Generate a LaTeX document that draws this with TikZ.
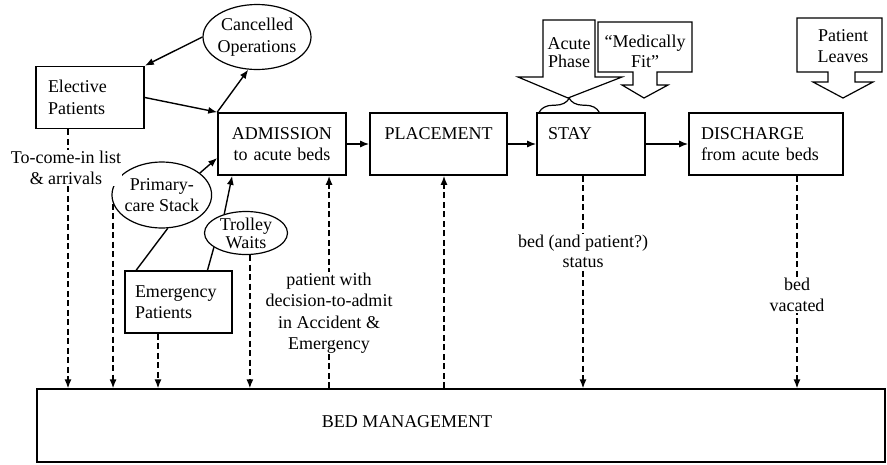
\documentclass[tikz,border=0pt]{standalone}
\usepackage{fontspec}
\setmainfont{Liberation Serif}
\usetikzlibrary{arrows.meta,shapes.geometric,decorations.pathreplacing}

\begin{document}
\begin{tikzpicture}[x=1pt, y=-1pt,
    every node/.style={font=\fontsize{18}{21.5}\selectfont},
    box/.style={draw, line width=1.6pt, minimum height=62pt, inner ysep=0pt},
    ell/.style={draw, ellipse, line width=1.2pt, inner xsep=-2pt, inner ysep=0pt, align=center},
    lbl/.style={fill=white, inner sep=1pt, align=center},
    bigarrow/.style={draw, line width=1.2pt, line join=miter},
    arr/.style={-{Latex[length=9pt,width=7pt]}, line width=1.4pt},
    link/.style={line width=1.4pt},
    dasharr/.style={arr, line width=1.5pt, dash pattern=on 6pt off 3.5pt}
]
\useasboundingbox (0,0) rectangle (887,464);

\node[box, text width=84pt, inner xsep=12pt, align=left] (elect) at (90,97.5) {Elective\\Patients};
\node[box, text width=104pt, inner xsep=12pt, align=center] (adm) at (282,144) {ADMISSION\\to acute beds};
\node[box, text width=113pt, inner xsep=12pt, align=center] (place) at (438.5,144) {PLACEMENT\\~};
\node[box, text width=86pt, inner xsep=11pt, align=left] (stay) at (591,144) {STAY\\~};
\node[box, text width=130pt, inner xsep=12pt, align=left] (disc) at (766,144) {DISCHARGE\\from acute beds};
\node[box, text width=87pt, inner xsep=10pt, align=left] (emer) at (178.5,302) {Emergency\\Patients};

\node[ell, minimum width=108pt, minimum height=65pt] (cancel) at (257,37) {Cancelled\\Operations};
\node[ell, minimum width=99pt, minimum height=66pt] (prim) at (161.8,195) {Primary-\\care Stack};
\node[ell, minimum width=83pt, minimum height=43pt, inner ysep=-4pt, font=\fontsize{18}{18}\selectfont] (troll) at (246,233) {Trolley\\Waits};

\node[draw, line width=1.2pt, minimum width=848pt, minimum height=73pt] (bed) at (461,425.5) {};
\node (bedlbl) at (407,422) {BED MANAGEMENT};

\draw[bigarrow] (543,20) -- (595,20) -- (595,77) -- (622,77) -- (568,98) -- (518,77) -- (543,77) -- cycle;
\node[align=center, font=\fontsize{18}{18}\selectfont] (acute) at (569,53) {Acute\\Phase};
\draw[bigarrow] (598,22) -- (692,22) -- (692,72) -- (657,72) -- (657,85) -- (668,85) -- (644,98) -- (622,85) -- (633,85) -- (633,72) -- (598,72) -- cycle;
\node[align=center, font=\fontsize{18}{20}\selectfont] (fit) at (645,51) {“Medically\\Fit”};
\draw[bigarrow] (797,18) -- (882,18) -- (882,72) -- (855,72) -- (855,82) -- (873,82) -- (843,98) -- (813,82) -- (828,82) -- (828,72) -- (797,72) -- cycle;
\node[align=center] (leaves) at (843,46) {Patient\\Leaves};
\draw[decorate, decoration={brace, amplitude=14pt}, line width=1.2pt] ([xshift=3pt]stay.north west) -- ([xshift=63pt]stay.north west);

\draw[arr] (cancel.west) -- (elect.north east);
\draw[arr] (elect.east) -- (adm.north west);
\draw[arr] (adm.north west) -- (cancel.255);
\draw[arr] (prim.30) -- ([yshift=-14pt]adm.west);
\draw[link] ([xshift=12pt]emer.north west) -- (prim.280);
\draw[link] ([xshift=29pt]emer.north) -- (troll.204);
\draw[arr] (troll.139) -- ([xshift=15pt]adm.south west);
\draw[arr] (adm) -- (place);
\draw[arr] (place) -- (stay);
\draw[arr] (stay) -- (disc);

\coordinate (cCome) at ([xshift=-22pt]elect.south);
\coordinate (cPrim) at (prim.190);
\coordinate (cEmer) at ([xshift=-20.5pt]emer.south);
\coordinate (cTroll) at (troll.-80);
\coordinate (cAdm) at ([xshift=-17.75pt]adm.south east);
\coordinate (cPlace) at ([xshift=5.5pt]place.south);
\coordinate (cStay) at ([xshift=-8pt]stay.south);
\coordinate (cDisc) at ([xshift=31pt]disc.south);
\draw[dasharr] (cCome) -- (cCome |- bed.north);
\draw[dasharr] (cPrim) -- (cPrim |- bed.north);
\draw[dasharr] (cEmer) -- (cEmer |- bed.north);
\draw[dasharr] (cTroll) -- (cTroll |- bed.north);
\draw[dasharr] (cAdm |- bed.north) -- (cAdm);
\draw[dasharr] (cPlace |- bed.north) -- (cPlace);
\draw[dasharr] (cStay) -- (cStay |- bed.north);
\draw[dasharr] (cDisc) -- (cDisc |- bed.north);

\node[lbl] (lblcome) at (66,168) {To-come-in list\\\& arrivals};
\node[lbl] (lblpat) at (329,313) {patient with\\decision-to-admit\\in Accident \&\\Emergency};
\node[lbl, font=\fontsize{18}{20}\selectfont] (lblstat) at (583,251) {bed (and patient?)\\status};
\node[lbl] (lblvac) at (797,295) {bed\\vacated};
\end{tikzpicture}
\end{document}
